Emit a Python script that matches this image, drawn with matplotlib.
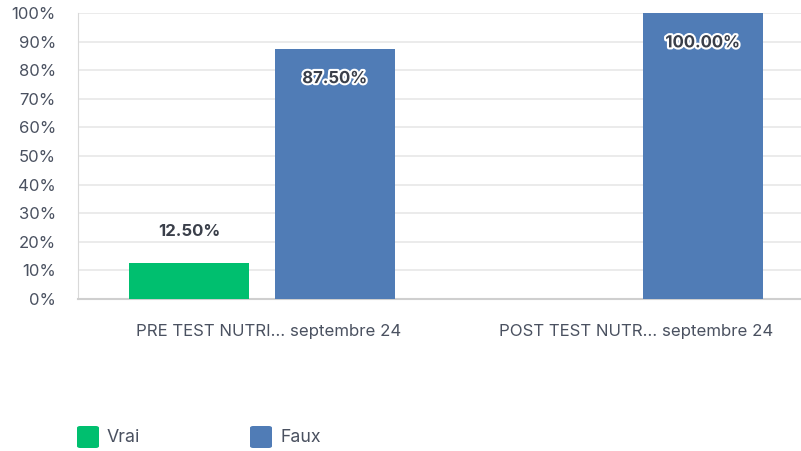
import matplotlib
matplotlib.use("Agg")
import matplotlib.pyplot as plt
import matplotlib.patheffects as pe
from matplotlib.patches import FancyBboxPatch
import numpy as np

categories = ["PRE TEST NUTRI... septembre 24", "POST TEST NUTR... septembre 24"]
series_names = ["Vrai", "Faux"]
vrai = [12.5, 0.0]
faux = [87.5, 100.0]
colors = ["#00bf6f", "#507cb6"]
yticks = [0, 10, 20, 30, 40, 50, 60, 70, 80, 90, 100]

plt.rcParams['font.family'] = ['Inter', 'DejaVu Sans']
txt = "#4a5160"

W, H = 801, 451
fig = plt.figure(figsize=(W/100, H/100), dpi=100)
ax = fig.add_axes([78/W, 1-299/H, (801-78)/W, (299-13)/H])

x = np.arange(len(categories))
bw = 0.326
off = 0.198
ax.bar(x - off, vrai, width=bw, color=colors[0], zorder=3)
ax.bar(x + off, faux, width=bw, color=colors[1], zorder=3)

ax.set_xlim(-0.5, 1.465)
ax.set_ylim(0, 100)
ax.set_yticks(yticks)
ax.set_yticklabels([f"{v}%" for v in yticks], fontsize=12, color=txt)
ax.set_xticks(x + 0.017)
ax.set_xticklabels(categories, fontsize=12.1, color=txt)
ax.tick_params(axis='y', length=0, pad=16)
ax.tick_params(axis='x', length=0, pad=18)
ax.grid(axis='y', color="#e8e8e8", linewidth=1.2, zorder=0)
for s in ['top', 'right']:
    ax.spines[s].set_visible(False)
ax.spines['left'].set_color("#d9d9d9")
ax.spines['bottom'].set_color("#cfcfcf")
ax.spines['bottom'].set_linewidth(1.5)

# labels
for i, v in enumerate(vrai):
    if v > 0:
        ax.annotate(f"{v:.2f}%", (x[i] - off, v), xytext=(0, 23), textcoords='offset points',
                    ha='center', va='center', fontsize=12, fontweight='bold', color="#3a3f4a")
for i, v in enumerate(faux):
    t = ax.annotate(f"{v:.2f}%", (x[i] + off, v), xytext=(0, -21.5), textcoords='offset points',
                    ha='center', va='center', fontsize=12, fontweight='bold', color="#3a3f4a", zorder=5)
    t.set_path_effects([pe.withStroke(linewidth=3, foreground="white")])

# legend
lx = [77, 250]
for i, name in enumerate(series_names):
    p = FancyBboxPatch((lx[i]/W, 1-448/H), 22/W, 22/H,
                       boxstyle="round,pad=0,rounding_size=0.004",
                       transform=fig.transFigure, facecolor=colors[i], edgecolor='none')
    fig.patches.append(p)
    fig.text((lx[i]+30)/W, 1-437/H, name, fontsize=12.8, color=txt, va='center', ha='left')

fig.savefig("out.png", dpi=100)
